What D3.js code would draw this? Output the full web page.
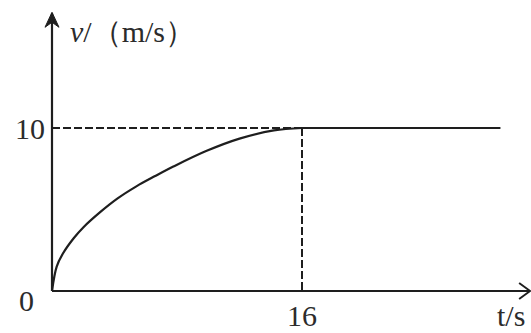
<!DOCTYPE html>
<html lang="zh">
<head>
<meta charset="UTF-8" />
<title>v-t</title>
<script src="https://cdn.jsdelivr.net/npm/d3@7"></script>
<style>
  body { margin: 0; background: #fff; }
  svg text { font-family: "Liberation Serif", "Times New Roman", serif; fill: #2b2b2b; }
</style>
</head>
<body>
<script>
// values
var curveT = [0, 0.3, 0.7, 1.4, 2.0, 3.1, 4.2, 5.4, 6.6, 7.8, 9.9, 12, 14.2, 16];
var curveV = [0, 1.5, 2.3, 3.25, 3.9, 4.85, 5.68, 6.42, 7.05, 7.65, 8.6, 9.35, 9.85, 10];
var flatT = [16, 28.7];
var flatV = [10, 10];
var xTicks = [16];
var yTicks = [10];
var xAxisMax = 30.6, yAxisMax = 17.1;

var w = 531, h = 333;
var svg = d3.select("body").append("svg")
    .attr("width", w)
    .attr("height", h);

var x = d3.scaleLinear().domain([0, 16]).range([52, 302]);
var y = d3.scaleLinear().domain([0, 10]).range([291, 128]);

var ink = "#1e1e1e";

// axes
svg.append("line")
    .attr("x1", x(0)).attr("y1", y(0))
    .attr("x2", x(xAxisMax) - 1).attr("y2", y(0))
    .attr("stroke", ink).attr("stroke-width", 2.2);
svg.append("line")
    .attr("x1", x(0)).attr("y1", y(0))
    .attr("x2", x(0)).attr("y2", y(yAxisMax) + 1)
    .attr("stroke", ink).attr("stroke-width", 2.2);

// arrow heads
var xe = x(xAxisMax), ye = y(yAxisMax);
svg.append("path")
    .attr("d", "M" + (xe - 11) + "," + (y(0) - 8) + "L" + xe + "," + y(0) + "L" + (xe - 11) + "," + (y(0) + 8))
    .attr("fill", "none").attr("stroke", ink).attr("stroke-width", 2);
svg.append("path")
    .attr("d", "M" + (x(0) - 7) + "," + (ye + 15) + "L" + x(0) + "," + ye + "L" + (x(0) + 7) + "," + (ye + 15) + "L" + x(0) + "," + (ye + 10) + "Z")
    .attr("fill", ink).attr("stroke", ink).attr("stroke-width", 1);

// dashed guides
svg.selectAll(".hguide").data(yTicks).enter().append("line")
    .attr("class", "hguide")
    .attr("x1", x(0)).attr("x2", x(16))
    .attr("y1", function(d) { return y(d); }).attr("y2", function(d) { return y(d); })
    .attr("stroke", ink).attr("stroke-width", 2).attr("stroke-dasharray", "8,3");
svg.selectAll(".vguide").data(xTicks).enter().append("line")
    .attr("class", "vguide")
    .attr("x1", function(d) { return x(d); }).attr("x2", function(d) { return x(d); })
    .attr("y1", y(10)).attr("y2", y(0))
    .attr("stroke", ink).attr("stroke-width", 2).attr("stroke-dasharray", "8,3");

// curve and flat part
var pts = curveT.map(function(t, i) { return [t, curveV[i]]; });
var line = d3.line()
    .x(function(d) { return x(d[0]); })
    .y(function(d) { return y(d[1]); })
    .curve(d3.curveCatmullRom.alpha(0.5));
svg.append("path").datum(pts)
    .attr("d", line)
    .attr("fill", "none").attr("stroke", ink).attr("stroke-width", 2.2);
svg.append("path").datum(flatT.map(function(t, i) { return [t, flatV[i]]; }))
    .attr("d", d3.line().x(function(d) { return x(d[0]); }).y(function(d) { return y(d[1]); }))
    .attr("fill", "none").attr("stroke", ink).attr("stroke-width", 2.2);

// labels
var fs = 30;
var serif = "Liberation Serif";
svg.selectAll(".ytick").data(yTicks).enter().append("text")
    .attr("class", "ytick")
    .attr("font-family", serif)
    .attr("x", x(0) - 7).attr("y", function(d) { return y(d) + 11; })
    .attr("text-anchor", "end").attr("font-size", fs)
    .text(function(d) { return d; });
svg.selectAll(".xtick").data(xTicks).enter().append("text")
    .attr("class", "xtick")
    .attr("font-family", serif)
    .attr("x", function(d) { return x(d); }).attr("y", y(0) + 35)
    .attr("text-anchor", "middle").attr("font-size", fs)
    .text(function(d) { return d; });
svg.append("text")
    .attr("font-family", serif)
    .attr("x", x(0) - 18).attr("y", y(0) + 20)
    .attr("text-anchor", "end").attr("font-size", fs)
    .text("0");
svg.append("text")
    .attr("font-family", serif)
    .attr("x", 497).attr("y", y(0) + 35)
    .attr("font-size", fs)
    .text("t/s");

var lab = svg.append("text")
    .attr("font-family", serif)
    .attr("x", 70).attr("y", 42)
    .attr("font-size", fs);
lab.append("tspan").attr("font-style", "italic").text("v");
lab.append("tspan").text("/（m/s）");
</script>
</body>
</html>
